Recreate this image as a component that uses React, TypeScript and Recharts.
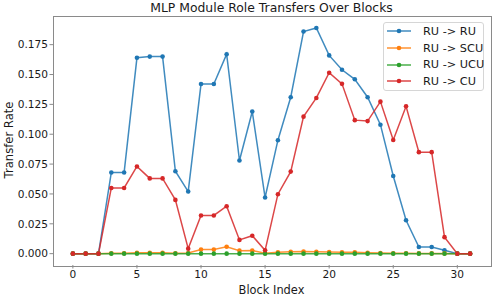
import { Line, LineChart, XAxis, YAxis } from 'recharts';

const blocks = Array.from({ length: 32 }, (_, i) => i);
const ruToRu = [
  0, 0, 0, 0.068, 0.068, 0.164, 0.165, 0.165, 0.069, 0.052, 0.142, 0.142, 0.167, 0.078, 0.119, 0.047,
  0.095, 0.131, 0.186, 0.189, 0.166, 0.154, 0.146, 0.131, 0.108, 0.065, 0.028, 0.0056, 0.0056, 0.0028, 0, 0,
];
const ruToScu = [
  0, 0, 0, 0.0003, 0.0003, 0.0007, 0.0008, 0.0008, 0.0004, 0.0005, 0.0034, 0.0034, 0.0058, 0.0025, 0.0027, 0.0003,
  0.0012, 0.0015, 0.0018, 0.0016, 0.0014, 0.0012, 0.0011, 0.0008, 0.0005, 0.0003, 0.0003, 0.0002, 0.0002, 0.0002, 0, 0,
];
const ruToUcu = [
  0, 0, 0, 0, 0, 0, 0, 0, 0, 0, 0, 0, 0, 0, 0, 0, 0, 0, 0, 0, 0, 0, 0, 0, 0, 0, 0, 0, 0, 0, 0, 0,
];
const ruToCu = [
  0, 0, 0, 0.055, 0.055, 0.073, 0.063, 0.063, 0.045, 0.0042, 0.032, 0.032, 0.0397, 0.0115, 0.015, 0.0028,
  0.0498, 0.0687, 0.1147, 0.1304, 0.1515, 0.1422, 0.1118, 0.111, 0.1273, 0.0952, 0.1234, 0.085, 0.085, 0.0138, 0, 0,
];
const xTicks = [0, 5, 10, 15, 20, 25, 30];
const yTicks = [0, 0.025, 0.05, 0.075, 0.1, 0.125, 0.15, 0.175];

const data = blocks.map((block, i) => ({
  block,
  ru: ruToRu[i],
  scu: ruToScu[i],
  ucu: ruToUcu[i],
  cu: ruToCu[i],
}));

const series = [
  { dataKey: 'ru', name: 'RU -> RU', color: '#1f77b4' },
  { dataKey: 'scu', name: 'RU -> SCU', color: '#ff7f0e' },
  { dataKey: 'ucu', name: 'RU -> UCU', color: '#2ca02c' },
  { dataKey: 'cu', name: 'RU -> CU', color: '#d62728' },
];

const font = '"DejaVu Sans", sans-serif';
const spine = '#8a8a8a';
const ink = '#1a1a1a';
const plot = { left: 53, top: 16, width: 437, height: 249 };

function LegendBox() {
  return (
    <div
      style={{
        position: 'absolute',
        left: 383,
        top: 22,
        width: 101,
        height: 69,
        boxSizing: 'border-box',
        border: '1px solid #d6d6d6',
        borderRadius: 3,
        background: 'rgba(255,255,255,0.85)',
        padding: '0 0 0 3px',
        fontFamily: font,
        fontSize: 11.3,
        color: ink,
        whiteSpace: 'nowrap',
      }}
    >
      {series.map((item) => (
        <div key={item.dataKey} style={{ display: 'flex', alignItems: 'center', height: 16.7 }}>
          <svg width={24} height={8} style={{ marginRight: 12, flex: 'none' }}>
            <line x1={0} y1={4} x2={24} y2={4} stroke={item.color} strokeWidth={1.5} strokeOpacity={0.85} />
            <circle cx={12} cy={4} r={2.3} fill={item.color} />
          </svg>
          <span>{item.name}</span>
        </div>
      ))}
    </div>
  );
}

export default function App() {
  return (
    <div style={{ position: 'absolute', left: 0, top: 0, width: 494, height: 297, background: '#fff' }}>
      <div
        style={{
          position: 'absolute',
          left: plot.left,
          width: plot.width,
          top: 0,
          textAlign: 'center',
          fontFamily: font,
          fontSize: 12.4,
          color: ink,
          lineHeight: '16px',
        }}
      >
        MLP Module Role Transfers Over Blocks
      </div>
      <div
        style={{
          position: 'absolute',
          left: 9 - 60,
          top: 140 - 8,
          width: 120,
          height: 16,
          transform: 'rotate(-90deg)',
          textAlign: 'center',
          fontFamily: font,
          fontSize: 11.6,
          color: ink,
          lineHeight: '16px',
        }}
      >
        Transfer Rate
      </div>
      <LineChart width={494} height={297} data={data} margin={{ top: plot.top, right: 4, left: 0, bottom: 0 }}>
        <XAxis
          dataKey="block"
          type="number"
          domain={[-1.55, 32.55]}
          ticks={xTicks}
          allowDataOverflow
          height={32}
          axisLine={false}
          tickLine={{ stroke: spine }}
          tickSize={3.5}
          tickMargin={1.5}
          tick={{ fill: ink, fontSize: 10.6, fontFamily: font }}
          label={{ value: 'Block Index', position: 'insideBottom', offset: 3, fill: ink, fontSize: 11.4, fontFamily: font }}
        />
        <YAxis
          type="number"
          domain={[-0.0095, 0.199]}
          ticks={yTicks}
          allowDataOverflow
          width={plot.left}
          axisLine={false}
          tickLine={{ stroke: spine }}
          tickSize={3.5}
          tickMargin={1.5}
          tickFormatter={(v: number) => v.toFixed(3)}
          tick={{ fill: ink, fontSize: 10.6, fontFamily: font }}
        />
        {series.map((item) => (
          <Line
            key={item.dataKey}
            dataKey={item.dataKey}
            name={item.name}
            type="linear"
            stroke={item.color}
            strokeWidth={1.5}
            strokeOpacity={0.85}
            dot={{ r: 2.3, fill: item.color, stroke: 'none' }}
            activeDot={false}
            isAnimationActive={false}
          />
        ))}
      </LineChart>
      <div
        style={{
          position: 'absolute',
          left: plot.left - 0.5,
          top: plot.top - 0.5,
          width: plot.width,
          height: plot.height,
          border: `1px solid ${spine}`,
          pointerEvents: 'none',
        }}
      />
      <LegendBox />
    </div>
  );
}
